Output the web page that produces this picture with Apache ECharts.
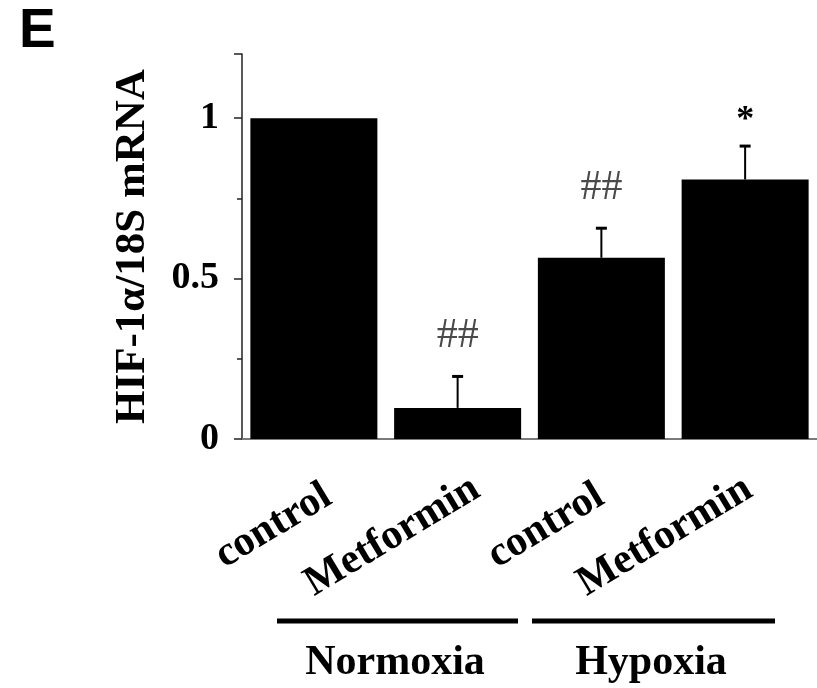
<!DOCTYPE html>
<html>
<head>
<meta charset="utf-8">
<script src="https://cdn.jsdelivr.net/npm/echarts@6/dist/echarts.min.js"></script>
<style>
  html, body { margin: 0; padding: 0; background: #fff; }
  #chart { width: 817px; height: 688px; }
</style>
</head>
<body>
<div id="chart"></div>
<script>
// ---- data ----
const categories = ['control', 'Metformin', 'control', 'Metformin'];
const values = [1.0, 0.097, 0.565, 0.809];
const errors = [0, 0.098, 0.092, 0.104];
const annotations = ['', '##', '##', '*'];
const yTicks = [0, 0.5, 1];
const groupNames = ['Normoxia', 'Hypoxia'];

const SERIF = '"Liberation Serif", "Times New Roman", serif';

const annStyle = {
  '##': { fontSize: 42, fontWeight: 'normal', fill: '#4a4a4a', gap: 40 },
  '*': { fontSize: 36, fontWeight: 'bold', fill: '#000', gap: 25 }
};
// per-label nudges (layout only)
const labelPadding = { 'control': [14, 14, 0, 0], 'Metformin': [0, 0, 0, 0] };

const chart = echarts.init(document.getElementById('chart'), null, { renderer: 'canvas' });

const option = {
  animation: false,
  backgroundColor: '#fff',
  title: {
    text: 'E', left: 14, top: -1,
    textStyle: { fontFamily: '"Liberation Sans", Arial, sans-serif', fontWeight: 'bold', fontSize: 55, color: '#000' }
  },
  grid: [
    { left: 242, right: -1, top: 54, bottom: 249, containLabel: false },
    { left: 272, right: -31, top: 54, bottom: 249, containLabel: false }
  ],
  xAxis: [
    {
      type: 'category', gridIndex: 0, data: categories,
      axisLine: { show: true, lineStyle: { color: '#7a7a7a', width: 2 } },
      axisTick: { show: false },
      axisLabel: { show: false },
      splitLine: { show: false }
    },
    {
      type: 'category', gridIndex: 1,
      data: categories.map(function (c) { return { value: c, textStyle: { padding: labelPadding[c] } }; }),
      axisLine: { show: false }, axisTick: { show: false }, splitLine: { show: false },
      axisLabel: {
        show: true, interval: 0, rotate: 31, margin: 47,
        fontFamily: SERIF, fontWeight: 'bold', fontSize: 42, color: '#000'
      }
    }
  ],
  yAxis: [
    {
      type: 'value', gridIndex: 0, min: 0, max: 1.2, interval: 0.5,
      name: 'HIF-1α/18S mRNA', nameLocation: 'middle', nameGap: 88,
      nameTextStyle: { fontFamily: SERIF, fontWeight: 'bold', fontSize: 43, color: '#000' },
      axisLine: { show: true, lineStyle: { color: '#222', width: 1.5 } },
      axisTick: { show: true, inside: false, length: 8, lineStyle: { color: '#222', width: 1.5 } },
      minorTick: { show: true, splitNumber: 2, length: 5, lineStyle: { color: '#222', width: 1.5 } },
      splitLine: { show: false },
      axisLabel: {
        margin: 23, showMaxLabel: false,
        fontFamily: SERIF, fontWeight: 'bold', fontSize: 38, color: '#000',
        formatter: function (v) { return yTicks.indexOf(v) >= 0 ? String(v) : ''; }
      }
    },
    { type: 'value', gridIndex: 1, min: 0, max: 1.2, show: false }
  ],
  series: [
    {
      type: 'bar', xAxisIndex: 0, yAxisIndex: 0,
      data: values, barWidth: 127,
      itemStyle: { color: '#000' }
    },
    {
      type: 'custom', xAxisIndex: 0, yAxisIndex: 0, z: 5,
      data: categories.map(function (c, i) { return [i, values[i], errors[i]]; }),
      renderItem: function (params, api) {
        const i = api.value(0), v = api.value(1), e = api.value(2);
        const base = api.coord([i, v]);
        const top = api.coord([i, v + e]);
        const children = [];
        if (e > 0) {
          children.push({ type: 'line', shape: { x1: base[0], y1: base[1], x2: top[0], y2: top[1] },
            style: { stroke: '#000', lineWidth: 2 } });
          children.push({ type: 'line', shape: { x1: top[0] - 5.5, y1: top[1], x2: top[0] + 5.5, y2: top[1] },
            style: { stroke: '#000', lineWidth: 3 } });
        }
        const a = annotations[params.dataIndex];
        if (a) {
          const s = annStyle[a];
          children.push({ type: 'text', x: top[0], y: top[1] - s.gap,
            style: { text: a, fill: s.fill, font: s.fontWeight + ' ' + s.fontSize + 'px ' + SERIF,
              textAlign: 'center', textVerticalAlign: 'middle' } });
        }
        return { type: 'group', children: children };
      }
    }
  ],
  graphic: [
    { type: 'line', shape: { x1: 277, y1: 621, x2: 518, y2: 621 }, style: { stroke: '#000', lineWidth: 5 } },
    { type: 'line', shape: { x1: 532, y1: 621, x2: 775, y2: 621 }, style: { stroke: '#000', lineWidth: 5 } },
    { type: 'text', x: 395, y: 663, style: { text: groupNames[0], font: 'bold 42px ' + SERIF, fill: '#000', textAlign: 'center', textVerticalAlign: 'middle' } },
    { type: 'text', x: 651, y: 663, style: { text: groupNames[1], font: 'bold 42px ' + SERIF, fill: '#000', textAlign: 'center', textVerticalAlign: 'middle' } }
  ]
};
chart.setOption(option);
</script>
</body>
</html>
